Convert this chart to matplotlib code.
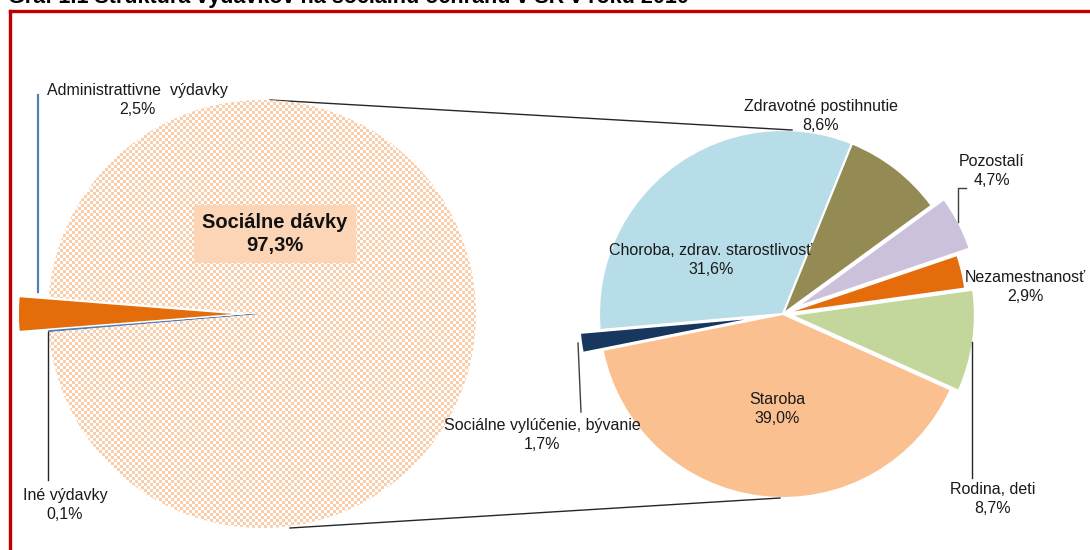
import matplotlib
matplotlib.use("Agg")
import matplotlib.pyplot as plt
import numpy as np
from matplotlib.colors import ListedColormap

# ---------------- data ----------------
left_labels = ["Administrattivne  výdavky", "Iné výdavky", "Sociálne dávky"]
left_values = [2.5, 0.1, 97.3]
left_colors = ["#E46C0A", "#4F81BD", "#FFFFFF"]

right_labels = ["Choroba, zdrav. starostlivosť", "Zdravotné postihnutie", "Pozostalí",
                "Nezamestnanosť", "Rodina, deti", "Staroba", "Sociálne vylúčenie, bývanie"]
right_values = [31.6, 8.6, 4.7, 2.9, 8.7, 39.0, 1.7]
right_colors = ["#B7DDE8", "#948A54", "#CCC1DA", "#E46C0A", "#C3D69B", "#FAC090", "#17375E"]

title = "Graf 1.1 Štruktúra výdavkov na sociálnu ochranu v SR v roku 2010"

W, H = 1090, 550
FAM = ["Liberation Sans", "DejaVu Sans"]
plt.rcParams["font.family"] = FAM


def Y(y):
    return H - y


def pct(v):
    return f"{v:.1f}".replace(".", ",") + "%"


fig = plt.figure(figsize=(W / 100, H / 100), dpi=100)
ax = fig.add_axes([0, 0, 1, 1])

# ---------------- left pie ----------------
lc = (262, Y(314))
lr = 214
lw_, _ = ax.pie(left_values, colors=left_colors, center=lc, radius=lr,
                startangle=175.5, counterclock=True,
                explode=[29, 0, 0], frame=True,
                wedgeprops=dict(linewidth=0))
lw_[1].set_edgecolor("#4F81BD")
lw_[1].set_linewidth(1.0)

# checkerboard fill for the main wedge
cell = 3
n = int(2 * lr / cell) + 4
ii, jj = np.indices((n, n))
checker = (ii + jj) % 2
x0 = lc[0] - lr - 3
y0 = lc[1] - lr - 3
img = ax.imshow(checker, cmap=ListedColormap(["#FFFFFF", "#FBCDA8"]),
                extent=[x0, x0 + n * cell, y0, y0 + n * cell],
                interpolation="nearest", zorder=2)
img.set_clip_path(lw_[2])

# ---------------- right pie ----------------
rc = (783, Y(314))
rr = 184
rw, _ = ax.pie(right_values, colors=right_colors, center=rc, radius=rr,
               startangle=185, counterclock=False,
               explode=[0, 0, 14, 0, 8, 0, 20], frame=True,
               wedgeprops=dict(edgecolor="white", linewidth=1.5))

ax.set_xlim(0, W)
ax.set_ylim(0, H)
ax.set_aspect("equal")
ax.axis("off")

# ---------------- connector lines ----------------
lk = dict(color="#262626", linewidth=1.0, zorder=1)
ax.plot([270, 792], [Y(100), Y(130)], **lk)
ax.plot([290, 780], [Y(528), Y(498)], **lk)

# leader lines
ax.plot([38, 38], [Y(95), Y(292)], color="#4F81BD", linewidth=1.6, zorder=3)
ax.plot([48, 48], [Y(332), Y(480)], color="#262626", linewidth=1.0, zorder=3)
ax.plot([958, 958, 966], [Y(222), Y(188), Y(188)], color="#404040", linewidth=1.0, zorder=3)
ax.plot([972, 972], [Y(342), Y(478)], color="#262626", linewidth=1.0, zorder=3)
ax.plot([578, 581], [Y(343), Y(412)], color="#404040", linewidth=1.0, zorder=3)

# ---------------- labels ----------------
fs = 11.5
tk = dict(ha="center", va="center", fontsize=fs, color="#1a1a1a", linespacing=1.3, zorder=5)

ax.text(137, Y(100), f"{left_labels[0]}\n{pct(left_values[0])}", **tk)
ax.text(65, Y(505), f"{left_labels[1]}\n{pct(left_values[1])}", **tk)
ax.text(275, Y(234), f"{left_labels[2]}\n{pct(left_values[2])}", ha="center", va="center",
        fontsize=14.5, fontweight="bold", color="#111111", linespacing=1.3, zorder=5,
        bbox=dict(boxstyle="square,pad=0.4", facecolor="#FBD5B5", edgecolor="none"))

right_pos = [(711, 260), (821, 116), (992, 171), (1025, 287), (993, 499), (777, 409), (542, 435)]
for lab, v, (x, y) in zip(right_labels, right_values, right_pos):
    ax.text(x, Y(y), f"{lab}\n{pct(v)}", **tk)

# ---------------- frame & title ----------------
red = "#C00000"
ax.plot([10, 10], [Y(11), Y(560)], color=red, linewidth=2.4, zorder=6, solid_capstyle="projecting")
ax.plot([10, 1100], [Y(11), Y(11)], color=red, linewidth=2.4, zorder=6, solid_capstyle="projecting")

fig.text(8 / W, 1 - 3 / H, title, ha="left", va="baseline", fontsize=15.5,
         fontweight="bold", color="#000000")

fig.savefig("out.png", dpi=100)
